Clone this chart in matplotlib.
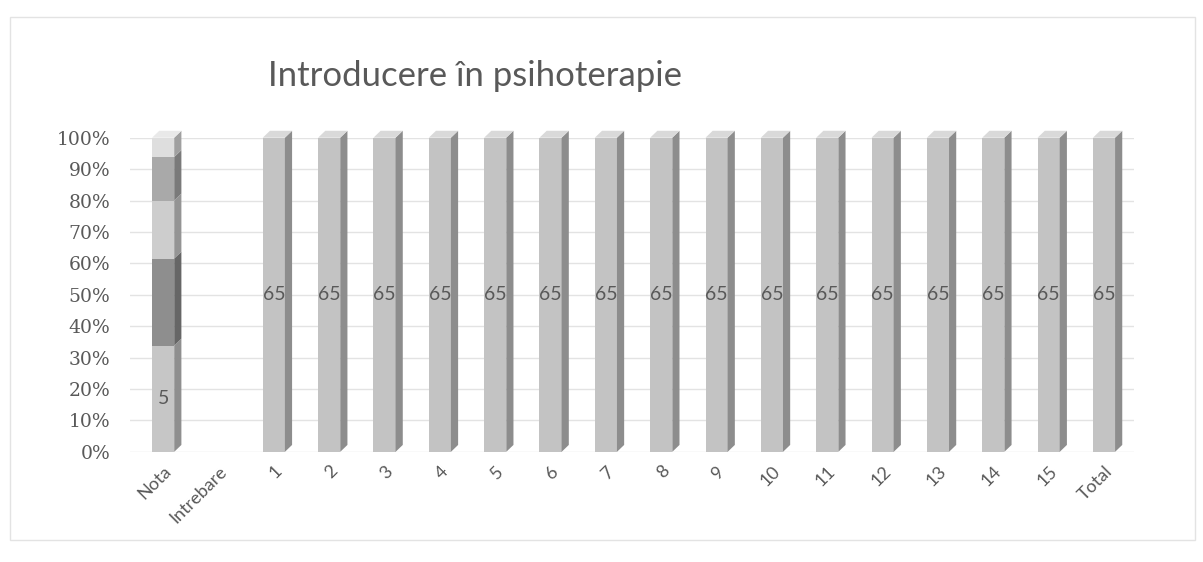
import matplotlib
matplotlib.use("Agg")
import matplotlib.pyplot as plt
from matplotlib.patches import Polygon, Rectangle

categories = ["Nota", "Intrebare", "1", "2", "3", "4", "5", "6", "7", "8", "9",
              "10", "11", "12", "13", "14", "15", "Total"]
question_counts = [None, None] + [65] * 16
nota_grades = ["5", "6", "7", "8", "9"]
nota_counts = [22, 18, 12, 9, 4]
nota_colors = ["#c6c6c6", "#8e8e8e", "#cdcdcd", "#a9a9a9", "#dedede"]
nota_labels = ["5", "", "", "", ""]

plt.rcParams['font.family'] = ['Lato', 'DejaVu Sans']
fig = plt.figure(figsize=(12.03, 5.62), dpi=100)
ax = fig.add_axes([0.108, 0.196, 0.835, 0.559])

W = 0.4
DX = 0.13
DY = 0.022
text_col = "#595959"

def bar3d(x, y0, y1, front, side, top, draw_top=True):
    ax.add_patch(Rectangle((x - W / 2, y0), W, y1 - y0, facecolor=front,
                           edgecolor="none", zorder=3, clip_on=False))
    ax.add_patch(Polygon([(x + W / 2, y0), (x + W / 2 + DX, y0 + DY),
                          (x + W / 2 + DX, y1 + DY), (x + W / 2, y1)],
                         closed=True, facecolor=side, edgecolor="none", zorder=3,
                         clip_on=False))
    if draw_top:
        ax.add_patch(Polygon([(x - W / 2, y1), (x - W / 2 + DX, y1 + DY),
                              (x + W / 2 + DX, y1 + DY), (x + W / 2, y1)],
                             closed=True, facecolor=top, edgecolor="none", zorder=3,
                             clip_on=False))

def darker(c, f):
    r, g, b = matplotlib.colors.to_rgb(c)
    return (min(r * f, 1), min(g * f, 1), min(b * f, 1))

# Nota stacked 100% bar
total = sum(nota_counts)
base = 0.0
for i, (cnt, col, lab) in enumerate(zip(nota_counts, nota_colors, nota_labels)):
    frac = cnt / total
    bar3d(0, base, base + frac, col, darker(col, 0.72), darker(col, 1.05),
          draw_top=(i == len(nota_counts) - 1))
    if lab:
        ax.text(0, base + frac / 2, lab, ha="center", va="center", fontsize=14,
                color=text_col, zorder=5)
    base += frac

# Question bars
for i, v in enumerate(question_counts):
    if v is None:
        continue
    bar3d(i, 0, 1.0, "#c3c3c3", "#8d8d8d", "#d9d9d9")
    ax.text(i, 0.5, str(v), ha="center", va="center", fontsize=14,
            color=text_col, zorder=5)

ax.set_xlim(-0.6, 17.55)
ax.set_ylim(0, 1.0)
ax.set_yticks([i / 10 for i in range(11)])
ax.set_yticklabels([f"{i * 10}%" for i in range(11)], fontsize=13.5, color=text_col,
                   family=['DejaVu Serif'])
ax.set_xticks(range(len(categories)))
ax.set_xticklabels(categories, rotation=45, ha="right", rotation_mode="anchor",
                   fontsize=13, color=text_col)
ax.tick_params(length=0, pad=8)
ax.tick_params(axis="y", pad=14)
ax.yaxis.grid(True, color="#e3e3e3", linewidth=1.0, zorder=0)
ax.set_axisbelow(True)
for s in ax.spines.values():
    s.set_visible(False)

fig.text(0.395, 0.865, "Introducere în psihoterapie", ha="center", va="center",
         fontsize=25, color=text_col)
fig.add_artist(Rectangle((0.008, 0.04), 0.985, 0.93, transform=fig.transFigure,
                         fill=False, edgecolor="#e3e3e3", linewidth=1))

fig.savefig("out.png", dpi=100)
